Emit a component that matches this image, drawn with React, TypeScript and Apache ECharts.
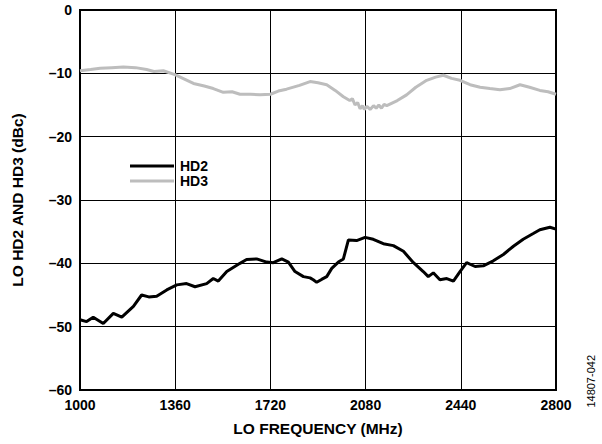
import React, { useEffect, useRef } from "react";
import * as echarts from "echarts";

const hd2Freq = [1000, 1025, 1050, 1088, 1126, 1158, 1202, 1233, 1260, 1290, 1328, 1366, 1403, 1435, 1479, 1504, 1523, 1555, 1605, 1630, 1668, 1706, 1731, 1763, 1788, 1813, 1845, 1870, 1882, 1895, 1915, 1933, 1952, 1977, 1996, 2015, 2046, 2078, 2109, 2147, 2185, 2223, 2261, 2298, 2317, 2336, 2361, 2387, 2412, 2437, 2462, 2494, 2525, 2563, 2601, 2639, 2676, 2714, 2739, 2777, 2800];
const hd2Val = [-48.9, -49.2, -48.5, -49.5, -47.9, -48.5, -46.8, -45.0, -45.3, -45.2, -44.2, -43.4, -43.2, -43.7, -43.2, -42.4, -42.8, -41.3, -40.0, -39.4, -39.3, -39.8, -39.9, -39.3, -39.8, -41.3, -42.1, -42.3, -42.6, -43.0, -42.5, -42.1, -40.8, -39.8, -39.3, -36.3, -36.4, -35.9, -36.2, -36.9, -37.2, -38.1, -39.9, -41.3, -42.1, -41.5, -42.6, -42.4, -42.8, -41.3, -39.9, -40.5, -40.4, -39.6, -38.6, -37.3, -36.2, -35.3, -34.7, -34.3, -34.6];

const hd3Freq = [1000, 1040, 1076, 1120, 1164, 1210, 1252, 1280, 1315, 1359, 1395, 1429, 1470, 1504, 1542, 1575, 1605, 1645, 1681, 1720, 1750, 1781, 1830, 1870, 1900, 1933, 1965, 1996, 2020, 2030, 2040, 2050, 2059, 2068, 2075, 2085, 2097, 2110, 2120, 2130, 2140, 2150, 2160, 2200, 2235, 2270, 2311, 2345, 2374, 2405, 2437, 2475, 2513, 2550, 2588, 2625, 2664, 2700, 2739, 2770, 2800];
const hd3Val = [-9.6, -9.4, -9.2, -9.1, -9.0, -9.1, -9.4, -9.7, -9.6, -10.2, -10.9, -11.6, -12.0, -12.4, -13.0, -12.9, -13.3, -13.3, -13.4, -13.3, -12.8, -12.5, -11.9, -11.3, -11.5, -11.8, -12.7, -13.7, -14.3, -14.0, -15.0, -14.6, -15.6, -15.1, -15.7, -15.2, -15.7, -15.1, -15.5, -15.0, -15.5, -14.9, -15.1, -14.3, -13.4, -12.2, -11.1, -10.6, -10.3, -10.8, -11.1, -11.8, -12.2, -12.4, -12.6, -12.4, -11.8, -12.2, -12.7, -12.9, -13.3];

const xTicks = [1000, 1360, 1720, 2080, 2440, 2800];
const yTicks = [0, -10, -20, -30, -40, -50, -60];

const FONT = "'Liberation Sans', Arial, sans-serif";

export default function App() {
  const ref = useRef<HTMLDivElement>(null);
  useEffect(() => {
    const chart = echarts.init(ref.current!, null, { renderer: "svg" });
    const x0 = xTicks[0];
    const step = xTicks[1] - xTicks[0];
    chart.setOption({
      animation: false,
      backgroundColor: "#fff",
      grid: { left: 80, right: 46, top: 10, bottom: 54, show: true, borderColor: "#000", borderWidth: 2, backgroundColor: "transparent" },
      legend: {
        orient: "vertical",
        left: 130,
        top: 159,
        padding: 0,
        itemWidth: 44,
        itemHeight: 3,
        itemGap: 1,
        icon: "rect",
        textStyle: { fontFamily: FONT, fontWeight: "bold", fontSize: 14, color: "#000", padding: [0, 0, 0, 1] },
        data: ["HD2", "HD3"],
      },
      xAxis: {
        type: "value",
        min: 0,
        max: xTicks[xTicks.length - 1] - x0,
        interval: step,
        name: "LO FREQUENCY (MHz)",
        nameLocation: "middle",
        nameGap: 30,
        nameTextStyle: { fontFamily: FONT, fontWeight: "bold", fontSize: 15.5, color: "#000" },
        axisLine: { show: false },
        axisTick: { show: false },
        axisLabel: { formatter: (v: number) => String(v + x0), fontFamily: FONT, fontWeight: "bold", fontSize: 14, color: "#000", margin: 8 },
        splitLine: { show: true, lineStyle: { color: "#000", width: 1 } },
      },
      yAxis: {
        type: "value",
        min: yTicks[yTicks.length - 1],
        max: yTicks[0],
        interval: 10,
        name: "LO HD2 AND HD3 (dBc)",
        nameLocation: "middle",
        nameGap: 55,
        nameTextStyle: { fontFamily: FONT, fontWeight: "bold", fontSize: 15.5, color: "#000" },
        axisLine: { show: false },
        axisTick: { show: false },
        axisLabel: { formatter: (v: number) => (v < 0 ? "\u2013" + Math.abs(v) : String(v)), fontFamily: FONT, fontWeight: "bold", fontSize: 14, color: "#000", margin: 8 },
        splitLine: { show: true, lineStyle: { color: "#000", width: 1 } },
      },
      series: [
        {
          name: "HD2",
          type: "line",
          data: hd2Freq.map((f, i) => [f - x0, hd2Val[i]]),
          showSymbol: false,
          lineStyle: { color: "#000", width: 3 },
          itemStyle: { color: "#000" },
        },
        {
          name: "HD3",
          type: "line",
          data: hd3Freq.map((f, i) => [f - x0, hd3Val[i]]),
          showSymbol: false,
          lineStyle: { color: "#bdbdbd", width: 3 },
          itemStyle: { color: "#bdbdbd" },
        },
      ],
      graphic: [
        {
          type: "text",
          left: 585,
          top: 355,
          rotation: Math.PI / 2,
          style: { text: "14807-042", fontFamily: FONT, fontSize: 11, fill: "#000" },
        },
      ],
    });
    return () => chart.dispose();
  }, []);
  return <div ref={ref} style={{ width: 602, height: 444, position: "absolute", left: 0, top: 0 }} />;
}
